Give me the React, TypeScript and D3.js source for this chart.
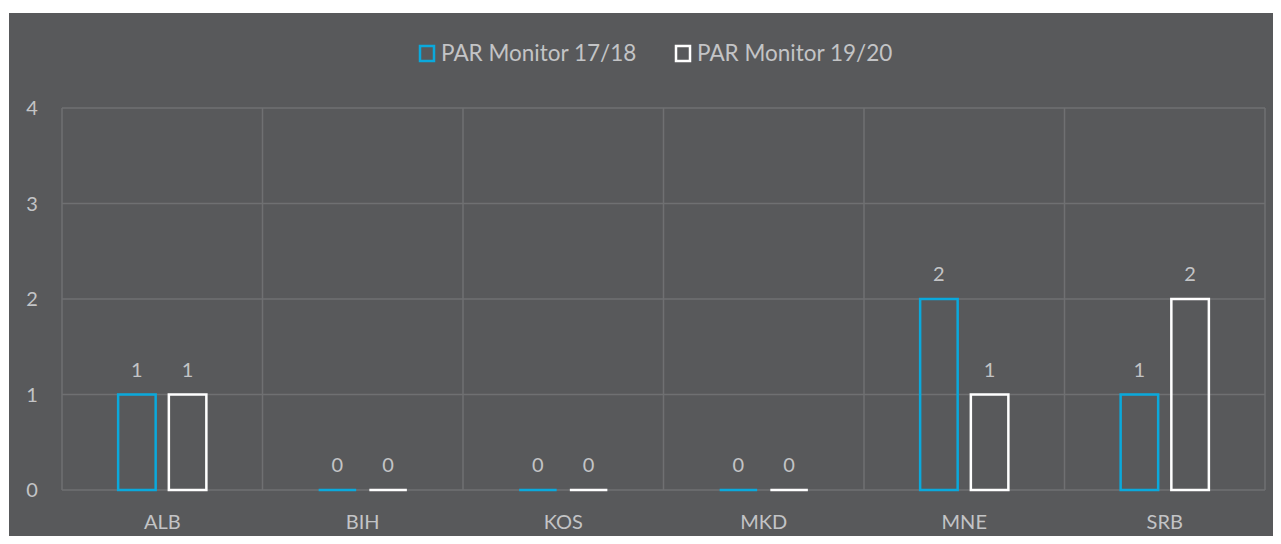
import React from "react";
import * as d3 from "d3";

const categories = ["ALB", "BIH", "KOS", "MKD", "MNE", "SRB"];
const series1718 = [1, 0, 0, 0, 2, 1];
const series1920 = [1, 0, 0, 0, 1, 2];
const seriesNames = ["PAR Monitor 17/18", "PAR Monitor 19/20"];
const yTicks = [0, 1, 2, 3, 4];

const W = 1281;
const H = 544;
const BG = "#58595b";
const BLUE = "#0aa9dc";
const WHITE = "#ffffff";
const TEXT = "#c3c4c6";
const GRID = "#6f7072";
const FONT = "Lato, 'Open Sans', sans-serif";

export default function App() {
  const left = 62, right = 1265, top = 108, bottom = 490;
  const x = d3.scaleBand<string>().domain(categories).range([left, right]).padding(0);
  const y = d3.scaleLinear().domain([0, 4]).range([bottom, top]);
  const bandW = x.bandwidth();
  const inner = d3.scaleBand<string>().domain(["a", "b"]).range([bandW * 0.28, bandW * 0.72]).paddingInner(0.26).paddingOuter(0);
  const series = [
    { name: seriesNames[0], values: series1718, color: BLUE, key: "a" },
    { name: seriesNames[1], values: series1920, color: WHITE, key: "b" },
  ];
  const sw = 2.5;
  return (
    <div style={{ margin: "-8px" }}>
      <svg width={W} height={H} style={{ display: "block" }}>
        <rect x={0} y={0} width={W} height={H} fill="#ffffff" />
        <rect x={9} y={13} width={W - 9} height={H - 13} fill={BG} />
        {yTicks.map((t) => (
          <g key={t}>
            <line x1={left} x2={right} y1={y(t)} y2={y(t)} stroke={GRID} strokeWidth={1.5} />
            <text x={32} y={y(t) + 7} textAnchor="middle" fill={TEXT} fontFamily={FONT} fontSize={20}>{t}</text>
          </g>
        ))}
        {[...categories.map((c) => x(c) as number), right].map((v, i) => (
          <line key={i} x1={v} x2={v} y1={top} y2={bottom} stroke={GRID} strokeWidth={1.5} />
        ))}
        {categories.map((c, i) => (
          <g key={c}>
            {series.map((s) => {
              const bx = (x(c) as number) + (inner(s.key) as number);
              const bw = inner.bandwidth();
              const v = s.values[i];
              const yt = y(v);
              return (
                <g key={s.key}>
                  {v > 0 ? (
                    <rect x={bx} y={yt} width={bw} height={y(0) - yt} fill="none" stroke={s.color} strokeWidth={sw} />
                  ) : (
                    <line x1={bx} x2={bx + bw} y1={y(0)} y2={y(0)} stroke={s.color} strokeWidth={sw} />
                  )}
                  <text x={bx + bw / 2} y={yt - 18} textAnchor="middle" fill={TEXT} fontFamily={FONT} fontSize={20}>{v}</text>
                </g>
              );
            })}
            <text x={(x(c) as number) + bandW / 2} y={529} textAnchor="middle" fill={TEXT} fontFamily={FONT} fontSize={20}>{c}</text>
          </g>
        ))}
        {series.map((s, i) => {
          const lx = i === 0 ? 420 : 676;
          return (
            <g key={s.key}>
              <rect x={lx} y={46} width={14} height={15} fill="none" stroke={s.color} strokeWidth={2.5} />
              <text x={lx + 21} y={61} fill={TEXT} fontFamily={FONT} fontSize={22.5}>{s.name}</text>
            </g>
          );
        })}
      </svg>
    </div>
  );
}
